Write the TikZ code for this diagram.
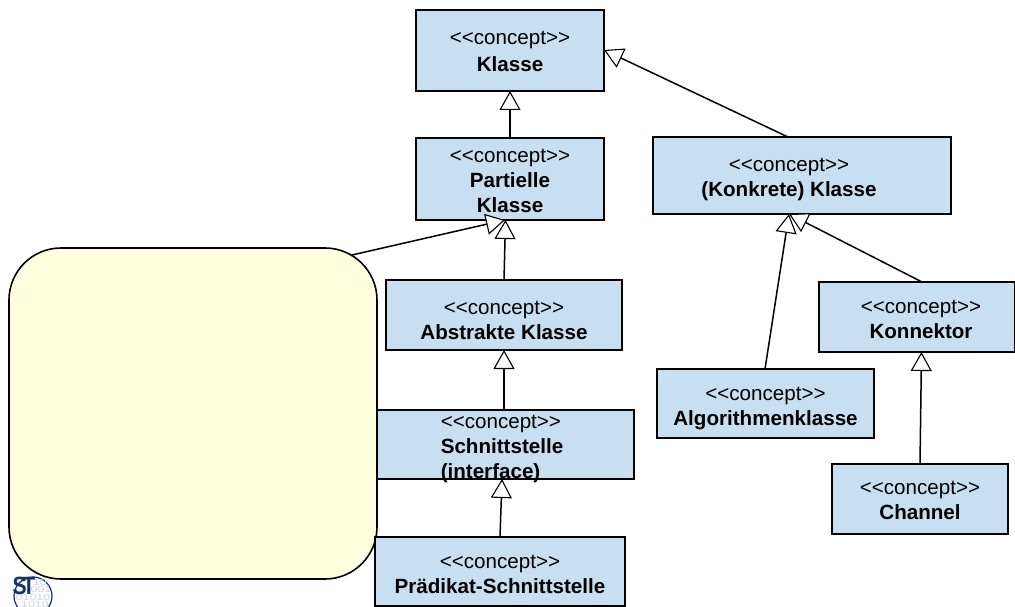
\documentclass[tikz,border=0pt]{standalone}
\usepackage{fontspec}
\setmainfont{Liberation Sans}
\usetikzlibrary{arrows.meta}
\definecolor{boxblue}{HTML}{C8DFF2}
\definecolor{notey}{HTML}{FFFFE0}
\definecolor{logoblue}{HTML}{1A3268}
\definecolor{logopale}{HTML}{CDD1EC}
\tikzset{
  conceptbox/.style={draw=black, fill=boxblue, line width=1.6pt, inner sep=0pt, outer sep=0pt, align=center,
    font=\fontsize{20.6}{25}\selectfont},
  boxtext/.style={inner sep=0pt, outer sep=0pt, align=left, font=\fontsize{20.6}{25}\selectfont},
  notebox/.style={draw=black, fill=notey, line width=1.6pt, rounded corners=52pt, inner sep=0pt, outer sep=0pt},
  genline/.style={draw=black, line width=1.5pt, -{Triangle[fill=white, length=19pt, width=21pt, line width=1.1pt]}},
  logodigits/.style={text=logopale, font=\fontsize{12.5}{12.5}\selectfont, inner sep=0pt, yscale=0.72},
  logomark/.style={text=logoblue, font=\bfseries\fontsize{25}{25}\selectfont, inner sep=0pt, xscale=0.85}
}
\newcommand{\cpt}[1]{\rule{0pt}{#1pt}<{}<concept>{}>}
\begin{document}
\begin{tikzpicture}[x=1pt,y=-1pt]
\useasboundingbox (0,0) rectangle (1015,607);
\clip (0,0) rectangle (1015,607);
% logo
\draw[logoblue, line width=1.2pt] (33,596) circle (19);
\node[logodigits] (d1) at (40,582) {10};
\node[logodigits] (d2) at (41,589.5) {001};
\node[logodigits] (d3) at (33,597) {01010};
\node[logodigits] (d4) at (35,604) {1010};
\node[logomark] (st) at (24,586) {S\kern-5pt T};
% concept boxes
\node[conceptbox, minimum width=188pt, minimum height=81pt] (klasse) at (510,50.5) {\cpt{14.6}\\[2pt]\textbf{Klasse}};
\node[conceptbox, minimum width=188pt, minimum height=82pt] (partielle) at (510,179) {\cpt{16.6}\\\textbf{Partielle}\\\textbf{Klasse}};
\node[conceptbox, minimum width=298pt, minimum height=77pt] (konkrete) at (802,175.5) {\cpt{20.6}\hspace*{26pt}\\\textbf{(Konkrete) Klasse}\hspace*{26pt}};
\node[conceptbox, minimum width=236pt, minimum height=70pt] (abstrakte) at (504,315) {\cpt{24.6}\\\textbf{Abstrakte Klasse}};
\node[conceptbox, minimum width=196pt, minimum height=70pt] (konnektor) at (917,317) {\hspace*{8pt}\cpt{18.6}\\\hspace*{8pt}\textbf{Konnektor}};
\node[conceptbox, minimum width=217pt, minimum height=69pt] (algo) at (765.5,403.5) {\cpt{22.6}\\\textbf{Algorithmenklasse}};
\node[conceptbox, minimum width=176pt, minimum height=70pt] (channel) at (920,499) {\cpt{16.6}\\\textbf{Channel}};
\node[conceptbox, minimum width=264pt, minimum height=69pt] (schnitt) at (502,444.5) {};
% note
\node[notebox, minimum width=368pt, minimum height=331pt] (note) at (193,413.5) {};
\node[conceptbox, minimum width=250pt, minimum height=69pt] (praedikat) at (500,571.5) {\cpt{18.6}\\\textbf{Prädikat-Schnittstelle}};
% connectors
\draw[genline] ([xshift=159pt,yshift=-7pt]note.north) -- ([xshift=-5pt]partielle.south);
\draw[genline] (partielle.north) -- (klasse.south);
\draw[genline] (abstrakte.north) -- ([xshift=-4.5pt]partielle.south);
\draw[genline] ([xshift=-14pt]konkrete.north) -- ([yshift=0.5pt]klasse.east);
\draw[genline] ([xshift=2pt]schnitt.north) -- (abstrakte.south);
\draw[genline] (praedikat.north) -- (schnitt.south);
\draw[genline] ([xshift=5pt]konnektor.north) -- ([xshift=-13pt]konkrete.south);
\draw[genline] ([xshift=-0.5pt]algo.north) -- ([xshift=-13pt]konkrete.south);
\draw[genline] (channel.north) -- ([xshift=4.5pt]konnektor.south);
% Schnittstelle text overflows its box and sits above the arrow tip
\node[boxtext] (schnitttext) at (502,448) {\cpt{14.6}\\\textbf{Schnittstelle}\\\textbf{(interface)}};
\end{tikzpicture}
\end{document}
